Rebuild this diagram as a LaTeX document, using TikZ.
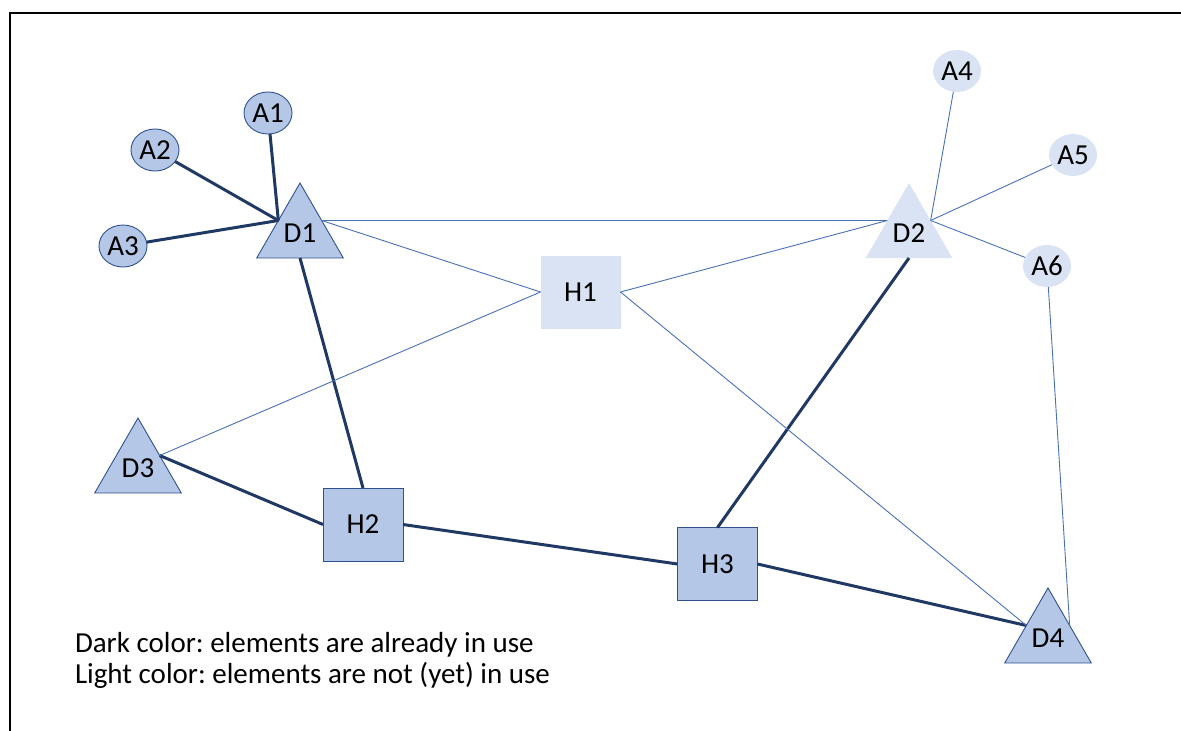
\documentclass[tikz,border=0pt]{standalone}
\usepackage{fontspec}
\setmainfont{Carlito}
\usetikzlibrary{shapes.geometric}
\definecolor{usedfill}{HTML}{B4C7E7}
\definecolor{usedline}{HTML}{203864}
\definecolor{usededge}{HTML}{2F528F}
\definecolor{freefill}{HTML}{DAE3F3}
\definecolor{freeline}{HTML}{4A70B8}

\begin{document}
\frenchspacing
\begin{tikzpicture}[x=1pt,y=-1pt,
  every node/.style={font=\fontsize{29}{31}\selectfont, inner sep=0pt, outer sep=0pt},
  used/.style={fill=usedfill, draw=usededge, line width=0.9pt},
  free/.style={fill=freefill},
  tri/.style={regular polygon, regular polygon sides=3, minimum size=100pt},
  box/.style={rectangle, minimum width=80pt, minimum height=73pt},
  ant/.style={ellipse, minimum width=48pt, minimum height=42pt},
  busy/.style={draw=usedline, line width=3pt},
  idle/.style={draw=freeline, line width=0.9pt}]

  \useasboundingbox (0,0) rectangle (1181,731);
  % frame (open on the right and bottom)
  \draw[line width=1.1pt] (10,731) -- (10,13) -- (1181,13);

  % distribution nodes
  \node[tri, used] (D1) at (300,233) {D1};
  \node[tri, free] (D2) at (909,233) {D2};
  \node[tri, used] (D3) at (138,468) {D3};
  \node[tri, used] (D4) at (1048,638) {D4};

  % hubs
  \node[box, free] (H1) at (580.5,292) {H1};
  \node[box, used] (H2) at (363,524.5) {H2};
  \node[box, used] (H3) at (717.5,564) {H3};

  % access points
  \node[ant, used] (A1) at (268,113) {A1};
  \node[ant, used] (A2) at (155,150) {A2};
  \node[ant, used] (A3) at (123,246) {A3};
  \node[ant, free] (A4) at (957,71) {A4};
  \node[ant, free] (A5) at (1073,155) {A5};
  \node[ant, free] (A6) at (1047,266) {A6};

  % links in use
  \draw[busy] (A1) -- (D1.side 1);
  \draw[busy] (A2) -- (D1.side 1);
  \draw[busy] (A3) -- (D1.side 1);
  \draw[busy] (D1.side 2) -- (H2.north);
  \draw[busy] (D3.side 3) -- (H2.west);
  \draw[busy] (H2.east) -- (H3.west);
  \draw[busy] (D2.side 2) -- (H3.north);
  \draw[busy] (H3.east) -- (D4.side 1);

  % links not yet in use
  \draw[idle] (D1.side 3) -- (D2.side 1);
  \draw[idle] (D1.side 3) -- (H1.west);
  \draw[idle] (D3.side 3) -- (H1.west);
  \draw[idle] (H1.east) -- (D2.side 1);
  \draw[idle] (H1.east) -- (D4.side 1);
  \draw[idle] (A4) -- (D2.side 3);
  \draw[idle] (A5) -- (D2.side 3);
  \draw[idle] (A6) -- (D2.side 3);
  \draw[idle] (A6) -- (D4.side 3);

  % legend
  \node[anchor=base west] (L1) at (75,652) {Dark color: elements are already in use};
  \node[anchor=base west] (L2) at (75,683) {Light color: elements are not (yet) in use};
\end{tikzpicture}
\end{document}
